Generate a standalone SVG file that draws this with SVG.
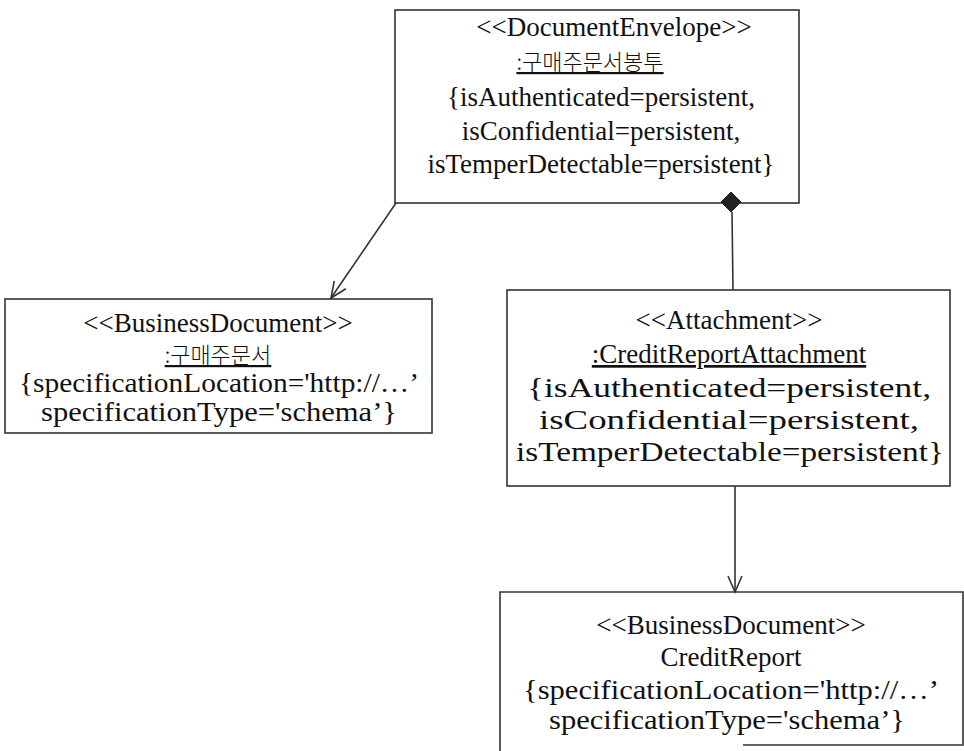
<svg xmlns="http://www.w3.org/2000/svg" width="964" height="751" viewBox="0 0 964 751">
<style>
.box{fill:#fff;stroke:#333;stroke-width:1.6}
.t{font-size:27px;fill:#111;text-anchor:middle}
.k{font-weight:300;font-size:22px}
.u{text-decoration:underline}
.ln{fill:none;stroke:#333;stroke-width:1.6}
</style>
<defs>
<marker id="open" viewBox="0 0 20 20" refX="18" refY="10" markerWidth="20" markerHeight="20" markerUnits="userSpaceOnUse" orient="auto">
<path d="M2,3 L18,10 L2,17" fill="none" stroke="#333" stroke-width="1.6"/>
</marker>
</defs>
<rect width="964" height="751" fill="#fff"/>
<g font-family="'Liberation Serif', 'Noto Sans CJK KR', serif">
<g id="envelope">
<rect class="box" x="395" y="10" width="404" height="193"/>
<text class="t" x="614" y="36">&lt;&lt;DocumentEnvelope&gt;&gt;</text>
<text class="t k u" x="590" y="70" font-family="'Noto Sans CJK KR', sans-serif">:구매주문서봉투</text>
<text class="t" x="601" y="106">{isAuthenticated=persistent,</text>
<text class="t" x="601" y="140">isConfidential=persistent,</text>
<text class="t" x="601" y="173">isTemperDetectable=persistent}</text>
</g>
<g id="purchaseOrder">
<rect class="box" x="5" y="299" width="427" height="134"/>
<text class="t" x="218" y="332">&lt;&lt;BusinessDocument&gt;&gt;</text>
<text class="t k u" x="218" y="363" font-family="'Noto Sans CJK KR', sans-serif">:구매주문서</text>
<text class="t" x="219" y="392" textLength="400" lengthAdjust="spacingAndGlyphs">{specificationLocation='http://…’</text>
<text class="t" x="219" y="421" textLength="356" lengthAdjust="spacingAndGlyphs">specificationType='schema’}</text>
</g>
<g id="attachment">
<rect class="box" x="507" y="290" width="443" height="196"/>
<text class="t" x="729" y="329">&lt;&lt;Attachment&gt;&gt;</text>
<text class="t u" x="729" y="363">:CreditReportAttachment</text>
<text class="t" x="729" y="397" textLength="404" lengthAdjust="spacingAndGlyphs">{isAuthenticated=persistent,</text>
<text class="t" x="729" y="429" textLength="380" lengthAdjust="spacingAndGlyphs">isConfidential=persistent,</text>
<text class="t" x="730" y="461" textLength="428" lengthAdjust="spacingAndGlyphs">isTemperDetectable=persistent}</text>
</g>
<g id="creditReport">
<path class="ln" d="M500,751 V592 H963 V745 H743"/>
<text class="t" x="731" y="634">&lt;&lt;BusinessDocument&gt;&gt;</text>
<text class="t" x="731" y="666">CreditReport</text>
<text class="t" x="731" y="699" textLength="416" lengthAdjust="spacingAndGlyphs">{specificationLocation='http://…’</text>
<text class="t" x="727" y="729" textLength="356" lengthAdjust="spacingAndGlyphs">specificationType='schema’}</text>
</g>
</g>
<g id="connectors">
<line class="ln" x1="396" y1="203" x2="331" y2="298" marker-end="url(#open)"/>
<line class="ln" x1="732" y1="212" x2="733" y2="290"/>
<polygon points="731,192 741,202 731,212 721,202" fill="#222" stroke="#222" stroke-width="1"/>
<line class="ln" x1="735" y1="486" x2="735" y2="592" marker-end="url(#open)"/>
</g>
</svg>
